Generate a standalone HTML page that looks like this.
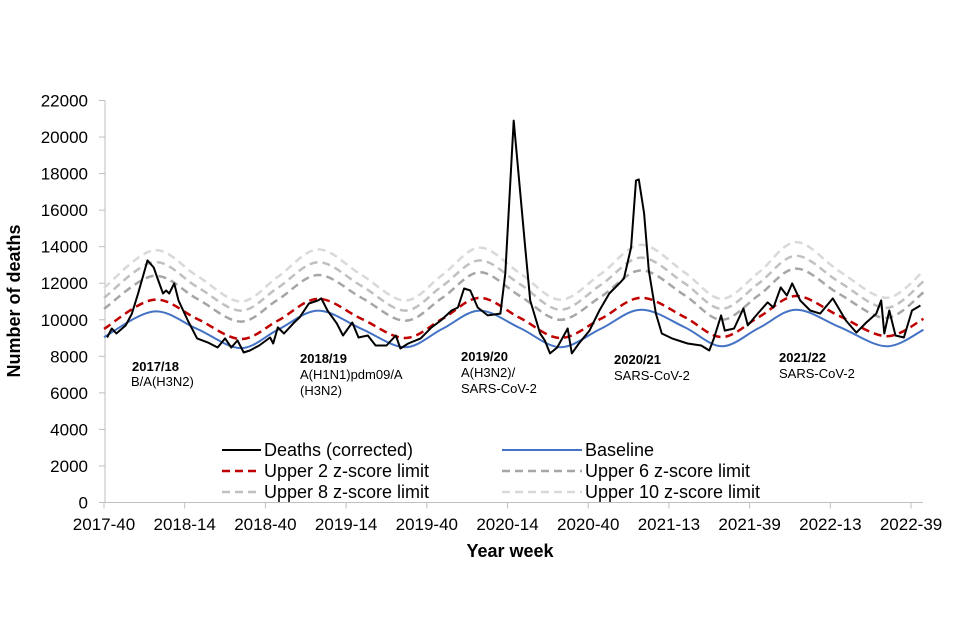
<!DOCTYPE html>
<html><head><meta charset="utf-8">
<style>
html,body{margin:0;padding:0;background:#fff;}
svg{display:block;font-family:"Liberation Sans",Arial,sans-serif;}
</style></head>
<body>
<svg id="chart" width="960" height="640" viewBox="0 0 960 640">
  <g id="axes"></g>
  <g id="series"></g>
  <g id="annotations">
    <text x="132" y="371" font-size="13" font-weight="bold">2017/18</text>
    <text x="131" y="386" font-size="13">B/A(H3N2)</text>
    <text x="300" y="363" font-size="13" font-weight="bold">2018/19</text>
    <text x="300" y="379" font-size="13">A(H1N1)pdm09/A</text>
    <text x="300" y="395" font-size="13">(H3N2)</text>
    <text x="461" y="361" font-size="13" font-weight="bold">2019/20</text>
    <text x="461" y="377" font-size="13">A(H3N2)/</text>
    <text x="461" y="393" font-size="13">SARS-CoV-2</text>
    <text x="614" y="364" font-size="13" font-weight="bold">2020/21</text>
    <text x="614" y="380" font-size="13">SARS-CoV-2</text>
    <text x="779" y="362" font-size="13" font-weight="bold">2021/22</text>
    <text x="779" y="378" font-size="13">SARS-CoV-2</text>
  </g>
  <g id="legend">
    <g>
      <line x1="222" y1="450" x2="261" y2="450" stroke="#000" stroke-width="2"/>
      <text x="264" y="456" font-size="18">Deaths (corrected)</text>
    </g>
    <g>
      <line x1="222" y1="471" x2="261" y2="471" stroke="#c00000" stroke-width="2.5" stroke-dasharray="8,5"/>
      <text x="264" y="477" font-size="18">Upper 2 z-score limit</text>
    </g>
    <g>
      <line x1="222" y1="492" x2="261" y2="492" stroke="#c0c0c0" stroke-width="2.5" stroke-dasharray="8,5"/>
      <text x="264" y="498" font-size="18">Upper 8 z-score limit</text>
    </g>
    <g>
      <line x1="502" y1="450" x2="582" y2="450" stroke="#4472c4" stroke-width="2"/>
      <text x="585" y="456" font-size="18">Baseline</text>
    </g>
    <g>
      <line x1="502" y1="471" x2="582" y2="471" stroke="#a6a6a6" stroke-width="2.5" stroke-dasharray="8,5"/>
      <text x="585" y="477" font-size="18">Upper 6 z-score limit</text>
    </g>
    <g>
      <line x1="502" y1="492" x2="582" y2="492" stroke="#d9d9d9" stroke-width="2.5" stroke-dasharray="8,5"/>
      <text x="585" y="498" font-size="18">Upper 10 z-score limit</text>
    </g>
  </g>
  <text x="20" y="301" font-size="18" font-weight="bold" text-anchor="middle" transform="rotate(-90 20 301)">Number of deaths</text>
  <text x="510" y="557" font-size="18" font-weight="bold" text-anchor="middle">Year week</text>
</svg>
<script>
const yTicks = [0,2000,4000,6000,8000,10000,12000,14000,16000,18000,20000,22000];
const xTickLabels = ["2017-40","2018-14","2018-40","2019-14","2019-40","2020-14","2020-40","2021-13","2021-39","2022-13","2022-39"];
const xTickWeeks = [0,26,52,78,104,130,156,182,208,234,260];

const bandWeeks = [0,16,30,44,56,69,83,97,109,121,134,147,160,173,187,199,211,223,237,252,264];
const baseline = [9050,10450,9500,8450,9450,10500,9500,8500,9500,10500,9550,8500,9500,10550,9600,8550,9550,10550,9600,8550,9450];
const upper2 = [9500,11100,10050,8950,9950,11150,10050,9000,10050,11200,10100,9000,10050,11200,10150,9050,10150,11300,10200,9100,10050];
const upper6 = [10600,12400,11150,9900,11100,12450,11200,9950,11200,12600,11300,10000,11250,12700,11350,10000,11350,12800,11400,10100,11500];
const upper8 = [11200,13150,11800,10500,11750,13150,11850,10500,11850,13250,11950,10550,11900,13400,12000,10600,12000,13500,12050,10650,12100];
const upper10 = [11750,13800,12400,11000,12350,13850,12450,11050,12450,13950,12550,11100,12500,14100,12600,11150,12600,14250,12650,11200,12650];

const deathWeeks = [1,2.5,4,7,9,11,14,16,17.5,19,20,21,22.6,24,27,30,33.4,36.6,39,41,43,45,47,50,53.5,54.5,56,58,61,63,66,69,70,72,75,77,80,82,85,87.5,91,94,95.5,98,102,105.5,108.5,112,114,116,118,120.4,123.6,127.7,129.3,132,135.7,137.3,140.5,142,143.7,146,149.4,150.7,153,156.4,159.6,162.8,166,167.5,169.8,171.4,172.3,174,175.5,177.8,179.7,183,188,192.4,195,196.6,198.8,200,203,206,207.4,210.6,213.8,215.7,218,220,221.7,224.3,227.5,230.7,234.8,239,242.4,245.6,248.8,250.4,251.4,253,255,257.7,260.3,263];
const deathValues = [9030,9520,9250,9690,10340,11440,13250,12860,12150,11440,11600,11440,11990,11060,9960,8980,8760,8480,8980,8480,8870,8210,8320,8590,9030,8700,9580,9250,9800,10130,10890,11060,11170,10510,9800,9140,9850,9030,9140,8590,8590,9140,8430,8700,8980,9580,9960,10510,10670,11710,11600,10670,10240,10340,12530,20900,13960,11060,9250,8870,8160,8480,9520,8160,8700,9410,10510,11440,11990,12260,13960,17620,17680,15820,12700,10340,9250,8980,8700,8590,8320,9030,10240,9410,9520,10620,9690,10340,10950,10670,11770,11330,11990,11060,10510,10340,11170,9960,9300,9850,10340,11060,9250,10510,9140,9030,10510,10780];

const NS = "http://www.w3.org/2000/svg";
const X0 = 104, PXW = 3.104, Y0 = 502.5, PXV = 402 / 22000;
function xScale(w){ return X0 + w * PXW; }
function yScale(v){ return Y0 - v * PXV; }
function mk(tag, attrs, parent){
  const el = document.createElementNS(NS, tag);
  for (const k in attrs) el.setAttribute(k, attrs[k]);
  parent.appendChild(el);
  return el;
}
const axes = document.getElementById('axes');
const series = document.getElementById('series');

// y axis
const yAxis = mk('line', {x1:105, y1:yScale(22000), x2:105, y2:yScale(0), stroke:'#bfbfbf', 'stroke-width':1}, axes);


yTicks.forEach(function(v){
  const y = yScale(v);
  const t = mk('line', {x1:99, y1:y, x2:105, y2:y, stroke:'#bfbfbf', 'stroke-width':1}, axes);
  
  
  const lb = mk('text', {x:88, y:y+6, 'font-size':17, 'text-anchor':'end', fill:'#000'}, axes);
  lb.textContent = String(v);
  
  
});
// x axis
const xAxis = mk('line', {x1:105, y1:yScale(0), x2:923, y2:yScale(0), stroke:'#bfbfbf', 'stroke-width':1}, axes);


xTickWeeks.forEach(function(w, i){
  const x = xScale(w);
  const t = mk('line', {x1:x, y1:yScale(0), x2:x, y2:yScale(0)+6, stroke:'#bfbfbf', 'stroke-width':1}, axes);
  
  
  const lb = mk('text', {x:x, y:530, 'font-size':17, 'text-anchor':'middle', fill:'#000'}, axes);
  lb.textContent = xTickLabels[i];
  
  
});

function smoothPath(ws, vs){
  const p = ws.map(function(w, i){ return [xScale(w), yScale(vs[i])]; });
  let d = 'M' + p[0][0].toFixed(1) + ',' + p[0][1].toFixed(1);
  for (let i = 0; i < p.length - 1; i++){
    const p0 = p[Math.max(0, i-1)], p1 = p[i], p2 = p[i+1], p3 = p[Math.min(p.length-1, i+2)];
    const c1x = p1[0] + (p2[0]-p0[0])/6, c1y = p1[1] + (p2[1]-p0[1])/6;
    const c2x = p2[0] - (p3[0]-p1[0])/6, c2y = p2[1] - (p3[1]-p1[1])/6;
    d += ' C' + c1x.toFixed(1) + ',' + c1y.toFixed(1) + ' ' + c2x.toFixed(1) + ',' + c2y.toFixed(1) + ' ' + p2[0].toFixed(1) + ',' + p2[1].toFixed(1);
  }
  return d;
}
function linePath(ws, vs){
  return ws.map(function(w, i){ return (i ? 'L' : 'M') + xScale(w).toFixed(1) + ',' + yScale(vs[i]).toFixed(1); }).join(' ');
}

const u10 = mk('path', {d:smoothPath(bandWeeks, upper10), fill:'none', stroke:'#d9d9d9', 'stroke-width':2.5, 'stroke-dasharray':'8,5'}, series);


const u8 = mk('path', {d:smoothPath(bandWeeks, upper8), fill:'none', stroke:'#c0c0c0', 'stroke-width':2.5, 'stroke-dasharray':'8,5'}, series);


const u6 = mk('path', {d:smoothPath(bandWeeks, upper6), fill:'none', stroke:'#a6a6a6', 'stroke-width':2.5, 'stroke-dasharray':'8,5'}, series);


const u2 = mk('path', {d:smoothPath(bandWeeks, upper2), fill:'none', stroke:'#c00000', 'stroke-width':2.5, 'stroke-dasharray':'8,5'}, series);


const bl = mk('path', {d:smoothPath(bandWeeks, baseline), fill:'none', stroke:'#4472c4', 'stroke-width':2}, series);


const dl = mk('path', {d:linePath(deathWeeks, deathValues), fill:'none', stroke:'#000', 'stroke-width':2, 'stroke-linejoin':'round'}, series);


</script>
</body></html>
